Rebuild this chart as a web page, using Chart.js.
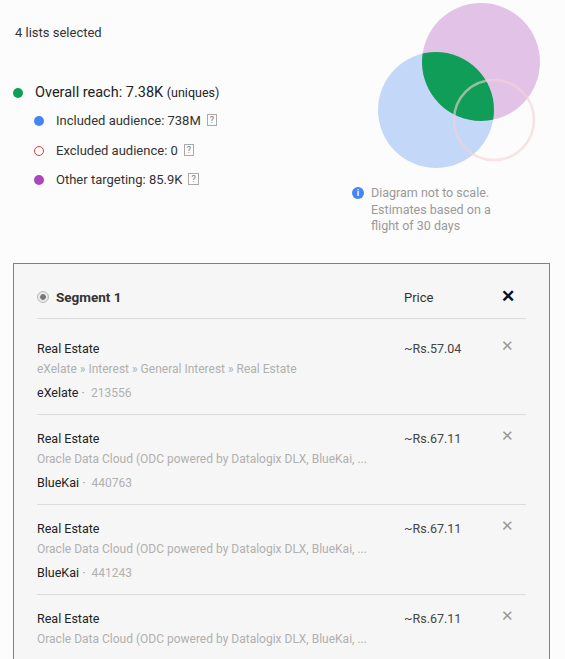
<!DOCTYPE html><html><head><meta charset="utf-8">
<script src="https://cdn.jsdelivr.net/npm/chart.js@4"></script>
<style>
body{margin:0;width:565px;height:659px;background:#fcfcfc;font-family:Roboto,"Noto Sans",sans-serif;position:relative;overflow:hidden;color:#333}
.a{position:absolute;white-space:nowrap}
.dot{position:absolute;width:10px;height:10px;border-radius:50%}
.q{display:inline-block;border:1px solid #aaa;font-size:9px;line-height:10px;padding:0 2px;margin-left:6px;color:#777;vertical-align:2px}
#panel{position:absolute;left:13px;top:263px;width:535px;height:420px;border:1.5px solid #3d8ee6;background:#f6f6f6}
.hr{position:absolute;left:37px;width:489px;height:1px;background:#dcdcdc}
.t{font-size:12.5px;color:#222}.s{font-size:12px;color:#b0b0b0}.p{font-size:12.5px;color:#444}
.x{font-size:15px;color:#999}
#vc{position:absolute;left:360px;top:0;width:205px;height:180px}
</style></head><body>
<div class="a" style="left:15px;top:25px;font-size:13px">4 lists selected</div>
<div class="dot" style="left:13px;top:88px;background:#0f9d58"></div>
<div class="a" style="left:35px;top:84px;font-size:14.5px;color:#222">Overall reach: 7.38K <span style="font-size:12.5px">(uniques)</span></div>
<div class="dot" style="left:34px;top:116px;background:#4285f4"></div>
<div class="a" style="left:56px;top:113px;font-size:13px">Included audience: 738M<span class="q">?</span></div>
<div class="dot" style="left:34px;top:146px;border:1px solid #e53935;width:8px;height:8px;background:#fff"></div>
<div class="a" style="left:56px;top:143px;font-size:13px">Excluded audience: 0<span class="q">?</span></div>
<div class="dot" style="left:34px;top:175px;background:#ab47bc"></div>
<div class="a" style="left:56px;top:172px;font-size:13px">Other targeting: 85.9K<span class="q">?</span></div>
<div class="dot" style="left:352px;top:187px;width:12px;height:12px;background:#4285f4;color:#fff;font-size:9px;text-align:center;line-height:12px;font-weight:bold">i</div>
<div class="a" style="left:371px;top:185px;font-size:12.5px;color:#999;line-height:16.5px">Diagram not to scale.<br>Estimates based on a<br>flight of 30 days</div>
<div id="vc"><canvas id="c"></canvas></div>
<div id="panel"></div>
<div class="a" style="left:37px;top:291px;width:10px;height:10px;border-radius:50%;border:1px solid #bbb;background:radial-gradient(#777 35%,#e8e8e8 45%)"></div>
<div class="a" style="left:56px;top:289px;font-size:13.5px;font-weight:bold;color:#333">Segment 1</div>
<div class="a" style="left:404px;top:290px;font-size:13px;color:#333">Price</div>
<div class="a" style="left:501px;top:286px;font-size:17px;font-weight:bold;color:#111">✕</div>
<div class="hr" style="top:318px"></div>
<div id="rows"></div>
<script>
const rowTitles=["Real Estate","Real Estate","Real Estate","Real Estate"];
const rowPaths=["eXelate » Interest » General Interest » Real Estate","Oracle Data Cloud (ODC powered by Datalogix DLX, BlueKai, ...","Oracle Data Cloud (ODC powered by Datalogix DLX, BlueKai, ...","Oracle Data Cloud (ODC powered by Datalogix DLX, BlueKai, ..."];
const rowSources=["eXelate","BlueKai","BlueKai",""];
const rowIds=["213556","440763","441243",""];
const rowPrices=["~Rs.57.04","~Rs.67.11","~Rs.67.11","~Rs.67.11"];
let h="";
rowTitles.forEach((t,i)=>{const y=341+i*90;
h+=`<div class="a t" style="left:37px;top:${y}px">${t}</div><div class="a s" style="left:37px;top:${y+21}px">${rowPaths[i]}</div>`;
if(rowSources[i])h+=`<div class="a t" style="left:37px;top:${y+44}px">${rowSources[i]} <span style="color:#999">·</span> <span class="s">&nbsp;${rowIds[i]}</span></div><div class="hr" style="top:${y+73}px"></div>`;
h+=`<div class="a p" style="left:404px;top:${y}px">${rowPrices[i]}</div><div class="a x" style="left:501px;top:${y-4}px">✕</div>`;});
document.getElementById('rows').innerHTML=h;
// Venn circles (center x, center y, radius) in diagram units
const circleNames=["Included","Other","Excluded"];
const circleX=[76,121,134];
const circleY=[110,62,120];
const circleR=[58,59,40];
const vennPlugin={id:'venn',afterDatasetsDraw(ch){
 const xs=ch.scales.x,ys=ch.scales.y,c=ch.ctx;
 const P=i=>({x:xs.getPixelForValue(circleX[i]),y:ys.getPixelForValue(circleY[i]),r:xs.getPixelForValue(circleR[i])-xs.getPixelForValue(0)});
 const circ=p=>{c.beginPath();c.arc(p.x,p.y,p.r,0,Math.PI*2);};
 const a=P(0),b=P(1),e=P(2);
 c.save();
 circ(a);c.fillStyle='#c3d8f8';c.fill();
 circ(b);c.fillStyle='#e3c2e8';c.fill();
 c.save();circ(a);c.clip();circ(b);c.fillStyle='#0f9d58';c.fill();c.restore();
 c.globalAlpha=0.6;circ(e);c.strokeStyle='#f3d2d4';c.lineWidth=2.5;c.stroke();
 c.restore();}};
new Chart(document.getElementById('c'),{type:'bubble',data:{datasets:circleNames.map((n,i)=>({label:n,data:[{x:circleX[i],y:circleY[i],r:0}],pointRadius:0,backgroundColor:'rgba(0,0,0,0)',borderWidth:0}))},
options:{responsive:true,maintainAspectRatio:false,animation:false,layout:{padding:0},plugins:{legend:{display:false},tooltip:{enabled:false}},
scales:{x:{type:'linear',min:0,max:205,display:false},y:{type:'linear',min:0,max:180,reverse:true,display:false}}},plugins:[vennPlugin]});
</script></body></html>
